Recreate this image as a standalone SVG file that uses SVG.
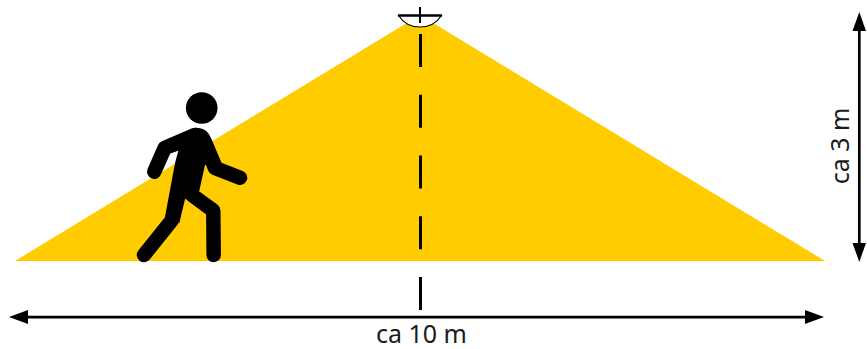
<svg xmlns="http://www.w3.org/2000/svg" width="867" height="349" viewBox="0 0 867 349">
<defs>
<style>
.dim{stroke:#000;stroke-width:2.700;fill:none}
.head{fill:#000}
.lbl{font-family:"Noto Sans","Open Sans",sans-serif;font-size:25px;fill:#1a1a1a;text-anchor:middle}
.limb{stroke:#000;stroke-width:14.500;stroke-linecap:round;stroke-linejoin:round;fill:none}
</style>
</defs>
<polygon id="beam" points="15,261 825,261 420,15" fill="#ffcc00"/>
<g id="sensor">
<path d="M398.500 15.500 C404 24 412 27 420 27 C428 27 436 24 441.500 15.500 Z" fill="#fff" stroke="#000" stroke-width="1.200"/>
<line x1="398" y1="15.500" x2="442" y2="15.500" stroke="#000" stroke-width="2.300"/>
<line x1="420" y1="7" x2="420" y2="23" stroke="#000" stroke-width="2"/>
</g>
<g id="person">
<circle cx="201.700" cy="108" r="15.800"/>
<path d="M195 127.700 C203 127.300 208 131 210.500 137 L221.700 163.300 L205 165 L199.300 190.700 L185 199.300 L179.300 223 L165 216.700 L175 163.300 L178.300 150.700 L170 153.300 L165 147 L180 134 Z"/>
<path class="limb" d="M154.300 171.700 L164.700 148 L195 135"/>
<path class="limb" d="M205 143 L215 168 L240 177.700"/>
<path class="limb" d="M172 220 L144 255"/>
<path class="limb" d="M192 195 L213.300 210.700 L213.700 255"/>
</g>
<g id="connectors">
<line x1="420.500" y1="34" x2="420.500" y2="310" stroke="#000" stroke-width="3" stroke-dasharray="33 27.750"/>
<line class="dim" x1="26" y1="317.200" x2="808" y2="317.200"/>
<polygon class="head" points="9,317 28,310 28,324"/>
<polygon class="head" points="824,317 805,310 805,324"/>
<line class="dim" x1="859.300" y1="30" x2="859.300" y2="245"/>
<polygon class="head" points="859.300,12 852.500,31 866,31"/>
<polygon class="head" points="859.300,262 852.500,243 866,243"/>
</g>
<text class="lbl" x="421.500" y="342.500">ca 10 m</text>
<text class="lbl" transform="translate(849 146) rotate(-90)">ca 3 m</text>
</svg>
